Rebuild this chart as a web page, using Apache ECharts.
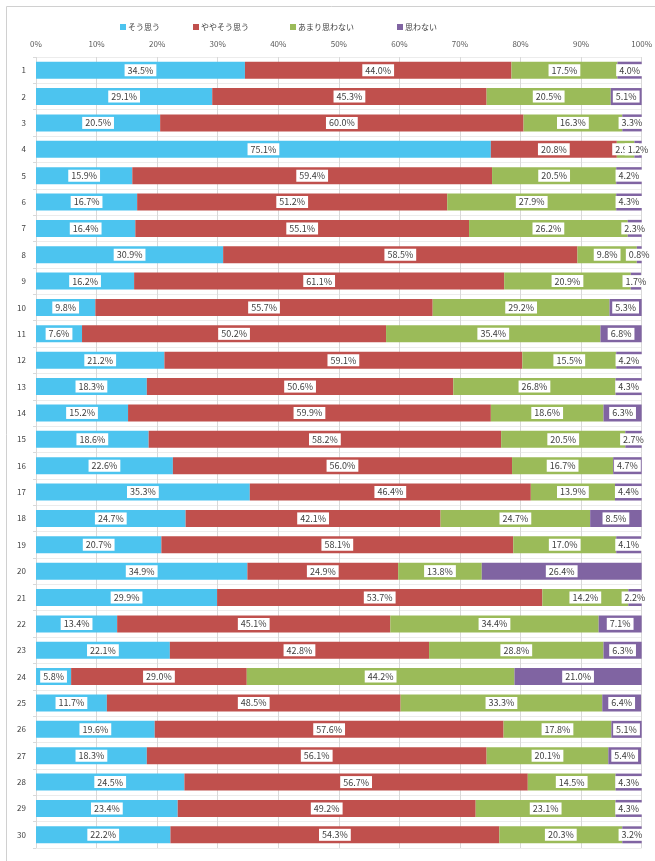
<!DOCTYPE html>
<html>
<head>
<meta charset="utf-8">
<script src="https://cdn.jsdelivr.net/npm/echarts@6/dist/echarts.min.js"></script>
<style>
  html, body { margin: 0; padding: 0; background: #fff; }
  #chart { width: 655px; height: 861px; }
</style>
</head>
<body>
<div id="chart"></div>
<script>
// 設問番号
const categories = ['1','2','3','4','5','6','7','8','9','10','11','12','13','14','15',
  '16','17','18','19','20','21','22','23','24','25','26','27','28','29','30'];

// 回答の割合 (%)
const sou = [34.5, 29.1, 20.5, 75.1, 15.9, 16.7, 16.4, 30.9, 16.2, 9.8, 7.6, 21.2, 18.3, 15.2, 18.6,
  22.6, 35.3, 24.7, 20.7, 34.9, 29.9, 13.4, 22.1, 5.8, 11.7, 19.6, 18.3, 24.5, 23.4, 22.2];
const yaya = [44.0, 45.3, 60.0, 20.8, 59.4, 51.2, 55.1, 58.5, 61.1, 55.7, 50.2, 59.1, 50.6, 59.9, 58.2,
  56.0, 46.4, 42.1, 58.1, 24.9, 53.7, 45.1, 42.8, 29.0, 48.5, 57.6, 56.1, 56.7, 49.2, 54.3];
const amari = [17.5, 20.5, 16.3, 2.9, 20.5, 27.9, 26.2, 9.8, 20.9, 29.2, 35.4, 15.5, 26.8, 18.6, 20.5,
  16.7, 13.9, 24.7, 17.0, 13.8, 14.2, 34.4, 28.8, 44.2, 33.3, 17.8, 20.1, 14.5, 23.1, 20.3];
const omowanai = [4.0, 5.1, 3.3, 1.2, 4.2, 4.3, 2.3, 0.8, 1.7, 5.3, 6.8, 4.2, 4.3, 6.3, 2.7,
  4.7, 4.4, 8.5, 4.1, 26.4, 2.2, 7.1, 6.3, 21.0, 6.4, 5.1, 5.4, 4.3, 4.3, 3.2];

const seriesNames = ['そう思う', 'ややそう思う', 'あまり思わない', '思わない'];
const seriesData = [sou, yaya, amari, omowanai];
const colors = ['#4cc4ef', '#c0504d', '#9bbb59', '#8064a2'];
// 凡例の左端位置
const legendLeft = [115, 188, 285, 392];

const font = '"Noto Sans CJK JP", "Noto Sans", sans-serif';

const chart = echarts.init(document.getElementById('chart'));

const option = {
  animation: false,
  textStyle: { fontFamily: font },
  graphic: [{
    type: 'rect',
    shape: { x: 6.5, y: 6.5, width: 700, height: 900 },
    style: { fill: 'none', stroke: '#d0d0d0', lineWidth: 1 },
    silent: true
  }],
  legend: seriesNames.map(function (name, i) {
    return {
      top: 18,
      left: legendLeft[i],
      itemWidth: 6,
      itemHeight: 6,
      icon: 'rect',
      textStyle: { fontSize: 8, color: '#404040', fontFamily: font, padding: [0, 0, 0, -3] },
      data: [name]
    };
  }),
  grid: {
    left: 36,
    right: 13,
    top: 57,
    bottom: 13
  },
  xAxis: {
    type: 'value',
    position: 'top',
    min: 0,
    max: 100,
    interval: 10,
    axisLine: { show: false },
    axisTick: { show: false },
    axisLabel: { formatter: '{value}%', fontSize: 8, color: '#595959', margin: 9 },
    splitLine: { lineStyle: { color: '#d9d9d9', width: 1 } }
  },
  yAxis: {
    type: 'category',
    inverse: true,
    data: categories,
    axisLine: { show: false },
    axisTick: { show: true, length: 3, lineStyle: { color: '#d9d9d9' } },
    axisLabel: { fontSize: 8, color: '#404040', margin: 10 },
    splitLine: { show: true, lineStyle: { color: '#ececec', width: 1 } }
  },
  series: seriesNames.map(function (name, i) {
    return {
      name: name,
      type: 'bar',
      stack: 'total',
      barWidth: 17,
      data: seriesData[i],
      itemStyle: { color: colors[i] },
      label: {
        show: true,
        position: 'inside',
        formatter: function (p) { return p.value.toFixed(1) + '%'; },
        fontSize: 9,
        color: '#404040',
        backgroundColor: '#ffffff',
        padding: [2, 3, 1, 3],
        fontFamily: font
      }
    };
  })
};

chart.setOption(option);
</script>
</body>
</html>
